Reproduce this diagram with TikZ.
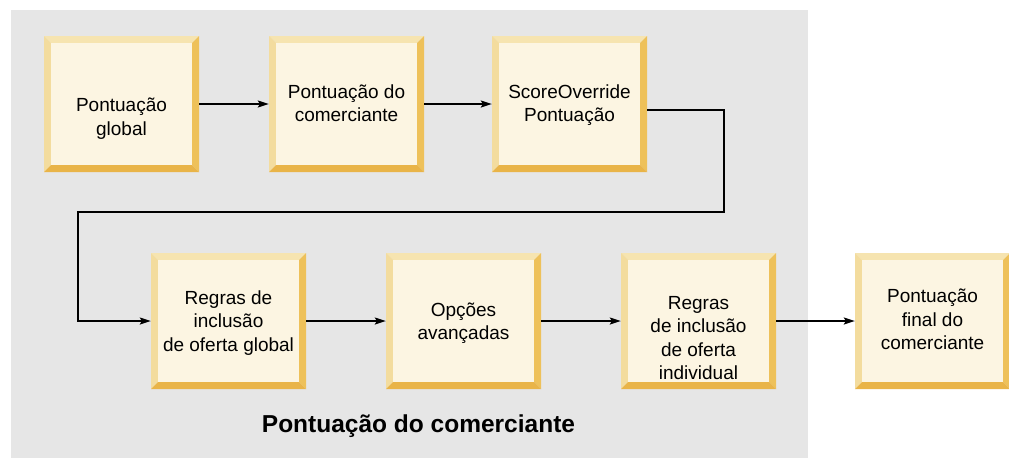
\documentclass[tikz,border=0pt]{standalone}
\usepackage{fontspec}
\setmainfont{Liberation Sans}
\usetikzlibrary{arrows.meta}
\definecolor{bggray}{HTML}{E6E6E6}
\definecolor{boxface}{HTML}{FCF5E2}
\definecolor{bevtop}{HTML}{F6E4B0}
\definecolor{bevleft}{HTML}{F3DC9E}
\definecolor{bevright}{HTML}{EEC15A}
\definecolor{bevbottom}{HTML}{E9B448}
\tikzset{
  x=1pt, y=-1pt,
  boxtext/.style={align=center, inner sep=0pt, font=\fontsize{19}{23.5}\selectfont, text=black},
  boxanchor/.style={minimum width=155pt, minimum height=136pt, inner sep=0pt},
  conn/.style={line width=1.4pt, -{Stealth[length=11pt,width=7pt,inset=2pt]}},
  title/.style={font=\fontsize{24.5}{29}\selectfont\bfseries, anchor=base, inner sep=0pt}
}
% name, left x, top y, text center y, text
\newcommand\bevbox[5]{%
  \fill[bevtop] (#2,#3) -- (#2+155,#3) -- (#2+148,#3+7) -- (#2+7,#3+7) -- cycle;
  \fill[bevleft] (#2,#3) -- (#2+7,#3+7) -- (#2+7,#3+129) -- (#2,#3+136) -- cycle;
  \fill[bevright] (#2+155,#3) -- (#2+155,#3+136) -- (#2+148,#3+129) -- (#2+148,#3+7) -- cycle;
  \fill[bevbottom] (#2,#3+136) -- (#2+155,#3+136) -- (#2+148,#3+129) -- (#2+7,#3+129) -- cycle;
  \fill[boxface] (#2+7,#3+7) rectangle (#2+148,#3+129);
  \node[boxanchor] (#1) at (#2+77.5,#3+68) {};
  \node[boxtext] (#1t) at (#2+77.5,#4) {#5};
}
\begin{document}
\begin{tikzpicture}
\useasboundingbox (0,0) rectangle (1009,458);
\fill[white] (0,0) rectangle (1009,458);
\fill[bggray] (11,10) rectangle (808,458);

\bevbox{b1}{44}{36}{118.5}{Pontuação\\global}
\bevbox{b2}{269}{36}{103}{Pontuação do\\comerciante}
\bevbox{b3}{492}{36}{105}{ScoreOverride\\Pontuação}
\bevbox{b4}{151}{253}{323}{Regras de\\inclusão\\de oferta global}
\bevbox{b5}{386}{253}{323}{Opções\\avançadas}
\bevbox{b6}{621}{253}{338}{Regras\\de inclusão\\de oferta\\individual}
\bevbox{b7}{855}{253}{319.5}{Pontuação\\final do\\comerciante}

\coordinate (c1) at (724,110);
\coordinate (c2) at (724,212);
\coordinate (c3) at (78,212);
\coordinate (c4) at (78,321);

\draw[conn] (b1.east) -- (b2.west);
\draw[conn] (b2.east) -- (b3.west);
\draw[conn] (b3.east |- c1) -- (c1) -- (c2) -- (c3) -- (c4) -- (b4.west);
\draw[conn] (b4.east) -- (b5.west);
\draw[conn] (b5.east) -- (b6.west);
\draw[conn] (b6.east) -- (b7.west);

\node[title] (t) at (418.5,432) {Pontuação do comerciante};
\end{tikzpicture}
\end{document}
